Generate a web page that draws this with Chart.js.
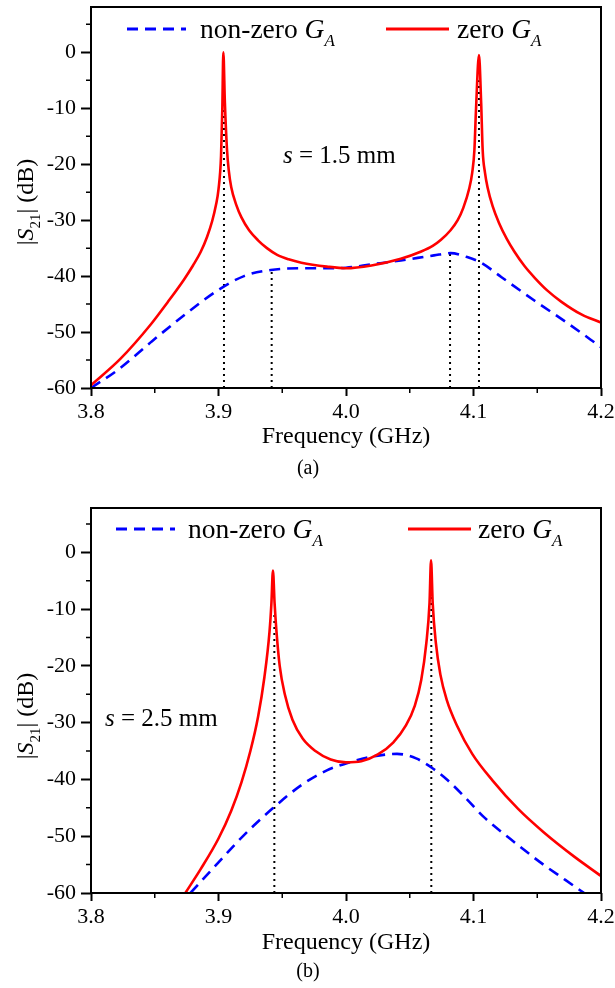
<!DOCTYPE html>
<html>
<head>
<meta charset="utf-8">
<title>|S21| vs frequency</title>
<script src="https://cdn.jsdelivr.net/npm/chart.js@4.4.0/dist/chart.umd.min.js"></script>
<style>
  html, body { margin: 0; padding: 0; background: #fff; }
  #wrap { position: relative; width: 615px; height: 988px; overflow: hidden; }
  .box { position: absolute; left: 0; width: 615px; }
</style>
</head>
<body>
<div id="wrap">
  <div class="box" style="top:0;height:488px"><canvas id="chartA" width="615" height="488"></canvas></div>
  <div class="box" style="top:488px;height:500px"><canvas id="chartB" width="615" height="500"></canvas></div>
</div>
<script>
// ---- data ----
// (a) s = 1.5 mm
const freqRedA = [3.800, 3.823, 3.847, 3.860, 3.873, 3.880, 3.886, 3.891, 3.895, 3.898, 3.900, 3.902, 3.903, 3.9038, 3.905, 3.9067, 3.908, 3.910, 3.914, 3.918, 3.924, 3.931, 3.938, 3.946, 3.955, 3.965, 3.985, 4.000, 4.020, 4.043, 4.059, 4.068, 4.0745, 4.082, 4.0876, 4.092, 4.0967, 4.099, 4.1007, 4.102, 4.1043, 4.106, 4.1072, 4.109, 4.111, 4.115, 4.120, 4.126, 4.132, 4.140, 4.148, 4.158, 4.169, 4.185, 4.200];
const s21RedA  = [-59.5, -54.8, -48.6, -44.7, -40.6, -38.1, -35.7, -33.0, -30.2, -27.3, -24.5, -18.5, -10.0, 0.0, -9.0, -17.5, -21.0, -24.1, -27.3, -29.5, -31.8, -33.6, -35.0, -36.2, -37.0, -37.6, -38.3, -38.6, -38.1, -36.9, -35.6, -34.6, -33.5, -31.8, -30.0, -27.8, -24.3, -21.5, -17.5, -10.0, -0.5, -9.0, -17.5, -21.5, -24.1, -27.5, -30.5, -33.3, -35.6, -38.2, -40.3, -42.6, -44.6, -46.9, -48.3];
const freqBlueA = [3.800, 3.822, 3.847, 3.873, 3.899, 3.920, 3.941, 3.965, 3.985, 4.000, 4.020, 4.043, 4.069, 4.082, 4.095, 4.106, 4.122, 4.148, 4.175, 4.200];
const s21BlueA  = [-60.0, -56.6, -51.8, -47.0, -42.6, -40.0, -38.9, -38.6, -38.6, -38.5, -37.9, -37.2, -36.3, -35.9, -36.6, -37.6, -40.2, -44.4, -48.6, -52.7];
const markerFreqA = [3.9043, 3.9417, 4.0816, 4.1043];
const markerTopA  = [-8, -38.9, -35.9, -5];

// (b) s = 2.5 mm
const freqRedB = [3.874, 3.886, 3.900, 3.910, 3.918, 3.925, 3.931, 3.936, 3.940, 3.9415, 3.9427, 3.944, 3.9455, 3.948, 3.952, 3.958, 3.966, 3.976, 3.988, 4.000, 4.012, 4.025, 4.037, 4.047, 4.054, 4.059, 4.063, 4.0655, 4.0667, 4.068, 4.0705, 4.074, 4.079, 4.087, 4.099, 4.115, 4.135, 4.155, 4.179, 4.200];
const s21RedB  = [-60.0, -55.8, -50.4, -45.5, -40.5, -35.0, -29.0, -22.0, -14.0, -9.0, -3.2, -9.0, -14.0, -20.0, -25.0, -29.5, -32.8, -35.0, -36.5, -37.0, -36.8, -35.6, -33.5, -30.5, -27.0, -22.5, -16.0, -9.0, -1.4, -9.0, -16.0, -21.5, -26.0, -30.5, -35.5, -40.2, -45.2, -49.3, -53.6, -57.0];
const freqBlueB = [3.878, 3.900, 3.920, 3.943, 3.965, 3.985, 4.000, 4.020, 4.040, 4.055, 4.067, 4.080, 4.094, 4.108, 4.129, 4.153, 4.172, 4.188];
const s21BlueB  = [-60.0, -54.6, -49.8, -45.0, -41.0, -38.4, -37.2, -36.0, -35.5, -36.3, -37.9, -40.2, -43.3, -46.6, -50.5, -54.7, -57.7, -60.2];
const markerFreqB = [3.9438, 4.0669];
const markerTopB  = [-11, -7];

// axis ticks
const xMajorTicks = [3.8, 3.9, 4.0, 4.1, 4.2];
const xMinorTicks = [3.85, 3.95, 4.05, 4.15];
const yMajorTicks = [-60, -50, -40, -30, -20, -10, 0];
const yMinorTicks = [-55, -45, -35, -25, -15, -5, 5];

const legendLabels = [['non-zero ', 'G', 'A'], ['zero ', 'G', 'A']];

const SERIF = '"Liberation Serif", "Times New Roman", serif';
Chart.defaults.font.family = SERIF;
Chart.defaults.color = '#000';

const toXY = (xs, ys) => xs.map((x, i) => ({ x: x, y: ys[i] }));

// draw a run of text pieces (plain / italic / subscript) starting at x
function drawRuns(ctx, runs, x, y, size) {
  let cx = x;
  runs.forEach(r => {
    const fs = r.sub ? Math.round(size * 0.62) : size;
    ctx.font = (r.it ? 'italic ' : '') + fs + 'px ' + SERIF;
    ctx.fillText(r.t, cx, y + (r.sub ? size * 0.3 : 0));
    cx += ctx.measureText(r.t).width;
  });
  return cx - x;
}
function runsWidth(ctx, runs, size) {
  let w = 0;
  runs.forEach(r => {
    const fs = r.sub ? Math.round(size * 0.62) : size;
    ctx.font = (r.it ? 'italic ' : '') + fs + 'px ' + SERIF;
    w += ctx.measureText(r.t).width;
  });
  return w;
}

// frame, minor ticks and all the text around the plot
const decorPlugin = {
  id: 'decor',
  afterDraw(chart, args, opts) {
    const ctx = chart.ctx;
    const a = chart.chartArea;
    const xs = chart.scales.x, ys = chart.scales.y;
    ctx.save();
    ctx.strokeStyle = '#000';
    ctx.lineWidth = 2;
    ctx.strokeRect(a.left, a.top, a.right - a.left, a.bottom - a.top);

    // minor ticks
    ctx.lineWidth = 1.5;
    ctx.beginPath();
    xMinorTicks.forEach(v => {
      const px = xs.getPixelForValue(v);
      ctx.moveTo(px, a.bottom); ctx.lineTo(px, a.bottom + 5);
    });
    yMinorTicks.forEach(v => {
      if (v > ys.max) return;
      const py = ys.getPixelForValue(v);
      ctx.moveTo(a.left, py); ctx.lineTo(a.left - 5, py);
    });
    ctx.stroke();

    // legend
    ctx.fillStyle = '#000';
    ctx.textBaseline = 'alphabetic';
    ctx.textAlign = 'left';
    const lg = opts.legend;
    const styles = [{ c: '#0000ff', d: [11, 7] }, { c: '#ff0000', d: [] }];
    lg.items.forEach((it, i) => {
      ctx.strokeStyle = styles[i].c;
      ctx.lineWidth = 3;
      ctx.setLineDash(styles[i].d);
      ctx.beginPath();
      ctx.moveTo(it.x0, lg.y); ctx.lineTo(it.x1, lg.y);
      ctx.stroke();
      ctx.setLineDash([]);
      const lab = legendLabels[i];
      drawRuns(ctx, [{ t: lab[0] }, { t: lab[1], it: true }, { t: lab[2], it: true, sub: true }], it.tx, lg.y + 9, 27.5);
    });

    // parameter annotation
    drawRuns(ctx, [{ t: 's', it: true }, { t: ' = ' + opts.note.text }], opts.note.x, opts.note.y, 25);

    // x title and panel tag
    ctx.textAlign = 'center';
    ctx.textBaseline = 'middle';
    ctx.font = '24px ' + SERIF;
    ctx.fillText('Frequency (GHz)', (a.left + a.right) / 2, opts.xTitleY);
    ctx.font = '20px ' + SERIF;
    ctx.fillText(opts.tag, 308, opts.tagY);

    // y title |S21| (dB), rotated
    ctx.textAlign = 'left';
    ctx.textBaseline = 'alphabetic';
    const yRuns = [{ t: '|' }, { t: 'S', it: true }, { t: '21', sub: true }, { t: '| (dB)' }];
    const w = runsWidth(ctx, yRuns, 24);
    ctx.translate(opts.yTitleX, opts.yTitleY);
    ctx.rotate(-Math.PI / 2);
    drawRuns(ctx, yRuns, -w / 2, 0, 24);
    ctx.restore();
  }
};

function makeChart(id, cfg) {
  const datasets = [
    {
      data: toXY(cfg.freqRed, cfg.s21Red),
      borderColor: '#ff0000', borderWidth: 2.6, borderJoinStyle: 'round',
      cubicInterpolationMode: 'monotone', pointRadius: 0, fill: false
    },
    {
      data: toXY(cfg.freqBlue, cfg.s21Blue),
      borderColor: '#0000ff', borderWidth: 2.6, borderDash: [11, 7],
      cubicInterpolationMode: 'monotone', pointRadius: 0, fill: false
    }
  ];
  // dotted markers from the bottom axis up to the curve
  cfg.markerFreq.forEach((f, i) => {
    datasets.push({
      data: [{ x: f, y: -60 }, { x: f, y: cfg.markerTop[i] }],
      borderColor: '#000', borderWidth: 2, borderDash: [2, 4],
      pointRadius: 0, fill: false
    });
  });

  return new Chart(document.getElementById(id), {
    type: 'line',
    data: { datasets: datasets },
    options: {
      responsive: false,
      animation: false,
      layout: { padding: { left: 0, right: 14, top: cfg.padTop, bottom: 0 } },
      plugins: {
        legend: { display: false },
        tooltip: { enabled: false },
        decor: cfg.decor
      },
      scales: {
        x: {
          type: 'linear', min: 3.8, max: 4.2,
          afterBuildTicks: s => { s.ticks = xMajorTicks.concat(xMinorTicks).sort((p, q) => p - q).map(v => ({ value: v })); },
          afterFit: s => { s.height = cfg.xHeight; s.paddingLeft = 0; s.paddingRight = 0; },
          grid: {
            drawOnChartArea: false, tickLength: 8, tickWidth: 2,
            tickColor: c => xMajorTicks.some(v => Math.abs(v - c.tick.value) < 1e-6) ? '#000' : 'rgba(0,0,0,0)'
          },
          border: { display: false },
          ticks: {
            autoSkip: false, maxRotation: 0, padding: 3,
            font: { size: 22 },
            callback: v => xMajorTicks.some(m => Math.abs(m - v) < 1e-6) ? v.toFixed(1) : ''
          }
        },
        y: {
          type: 'linear', min: -60, max: cfg.yMax,
          afterBuildTicks: s => { s.ticks = yMajorTicks.concat(yMinorTicks).filter(v => v <= cfg.yMax).sort((p, q) => p - q).map(v => ({ value: v })); },
          afterFit: s => { s.width = 91; s.paddingTop = 0; s.paddingBottom = 0; },
          grid: {
            drawOnChartArea: false, tickLength: 10, tickWidth: 2,
            tickColor: c => yMajorTicks.includes(c.tick.value) ? '#000' : 'rgba(0,0,0,0)'
          },
          border: { display: false },
          ticks: {
            autoSkip: false, padding: 5,
            font: { size: 22 },
            callback: v => yMajorTicks.includes(v) ? String(v) : ''
          }
        }
      }
    },
    plugins: [decorPlugin]
  });
}

makeChart('chartA', {
  freqRed: freqRedA, s21Red: s21RedA, freqBlue: freqBlueA, s21Blue: s21BlueA,
  markerFreq: markerFreqA, markerTop: markerTopA,
  yMax: 8.1, padTop: 7, xHeight: 100,
  decor: {
    legend: { y: 29, items: [{ x0: 127, x1: 186, tx: 200 }, { x0: 386, x1: 449, tx: 457 }] },
    note: { text: '1.5 mm', x: 283, y: 163 },
    xTitleY: 437, tag: '(a)', tagY: 469,
    yTitleX: 33, yTitleY: 202
  }
});

makeChart('chartB', {
  freqRed: freqRedB, s21Red: s21RedB, freqBlue: freqBlueB, s21Blue: s21BlueB,
  markerFreq: markerFreqB, markerTop: markerTopB,
  yMax: 7.8, padTop: 20, xHeight: 95,
  decor: {
    legend: { y: 41, items: [{ x0: 116, x1: 175, tx: 188 }, { x0: 408, x1: 471, tx: 478 }] },
    note: { text: '2.5 mm', x: 105, y: 238 },
    xTitleY: 455, tag: '(b)', tagY: 484,
    yTitleX: 33, yTitleY: 228
  }
});
</script>
</body>
</html>
